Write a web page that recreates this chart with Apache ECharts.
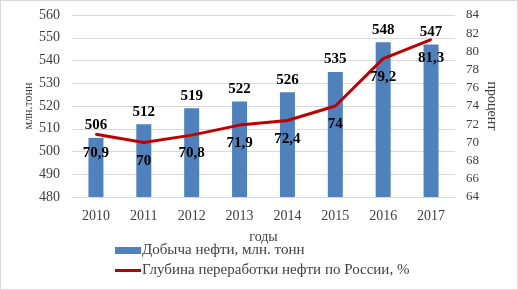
<!DOCTYPE html>
<html>
<head>
<meta charset="utf-8">
<script src="https://cdn.jsdelivr.net/npm/echarts@6/dist/echarts.min.js"></script>
<style>
  html, body { margin: 0; padding: 0; background: #fff; }
  #chart { width: 516px; height: 288px; border: 1px solid #d9d9d9; }
</style>
</head>
<body>
<div id="chart"></div>
<script>
  // данные с картинки
  var years = ['2010', '2011', '2012', '2013', '2014', '2015', '2016', '2017']
  var production = [506, 512, 519, 522, 526, 535, 548, 547]
  var refiningDepth = [70.9, 70, 70.8, 71.9, 72.4, 74, 79.2, 81.3]

  var serif = 'Liberation Serif'
  var chart = echarts.init(document.getElementById('chart'))

  chart.setOption({
    backgroundColor: '#fff',
    animation: false,
    grid: { left: 71, right: 62, top: 14, bottom: 92 },
    legend: {
      orient: 'vertical',
      left: 114,
      top: 242,
      padding: 0,
      itemGap: 5,
      itemWidth: 26,
      itemHeight: 7,
      symbolKeepAspect: true,
      textStyle: { fontFamily: serif, fontSize: 15, color: '#404040', padding: [0, 0, 0, -4] },
      data: [
        { name: 'Добыча нефти, млн. тонн', icon: 'rect' },
        {
          name: 'Глубина переработки нефти по России, %',
          icon: 'path://M0,0 H26 V3 H0 Z'
        }
      ]
    },
    xAxis: {
      type: 'category',
      data: years,
      name: 'годы',
      nameLocation: 'middle',
      nameGap: 33,
      nameMoveOverlap: false,
      nameTextStyle: { fontFamily: serif, fontSize: 14, color: '#404040' },
      axisLine: { lineStyle: { color: '#d9d9d9' } },
      axisTick: { show: false },
      axisLabel: { fontFamily: serif, fontSize: 14, color: '#404040', margin: 12 }
    },
    yAxis: [
      {
        type: 'value',
        min: 480, max: 560, interval: 10,
        name: 'млн.тонн',
        nameLocation: 'middle',
        nameGap: 37,
        nameMoveOverlap: false,
        nameTextStyle: { fontFamily: serif, fontSize: 12, color: '#404040' },
        axisLabel: { fontFamily: serif, fontSize: 14, color: '#404040', margin: 12 },
        splitLine: { lineStyle: { color: '#d9d9d9' } }
      },
      {
        type: 'value',
        min: 64, max: 84, interval: 2,
        name: 'процент',
        nameLocation: 'middle',
        nameRotate: -90,
        nameGap: 30,
        nameMoveOverlap: false,
        nameTextStyle: { fontFamily: serif, fontSize: 14, color: '#404040' },
        axisLabel: { fontFamily: serif, fontSize: 13, color: '#404040', margin: 11 },
        splitLine: { show: false }
      }
    ],
    series: [
      {
        name: 'Добыча нефти, млн. тонн',
        type: 'bar',
        data: production,
        barWidth: 15,
        itemStyle: { color: '#4F81BD' },
        label: {
          show: true, position: 'top', distance: 5,
          fontFamily: serif, fontSize: 15, fontWeight: 'bold', color: '#000'
        }
      },
      {
        name: 'Глубина переработки нефти по России, %',
        type: 'line',
        yAxisIndex: 1,
        data: refiningDepth,
        symbol: 'circle',
        symbolSize: 2,
        showSymbol: true,
        lineStyle: { color: '#C00000', width: 3 },
        itemStyle: { color: '#C00000' },
        label: {
          show: true, position: 'bottom', distance: 10,
          fontFamily: serif, fontSize: 15, fontWeight: 'bold', color: '#000',
          formatter: function (p) { return String(p.value).replace('.', ',') }
        }
      }
    ]
  })
</script>
</body>
</html>
